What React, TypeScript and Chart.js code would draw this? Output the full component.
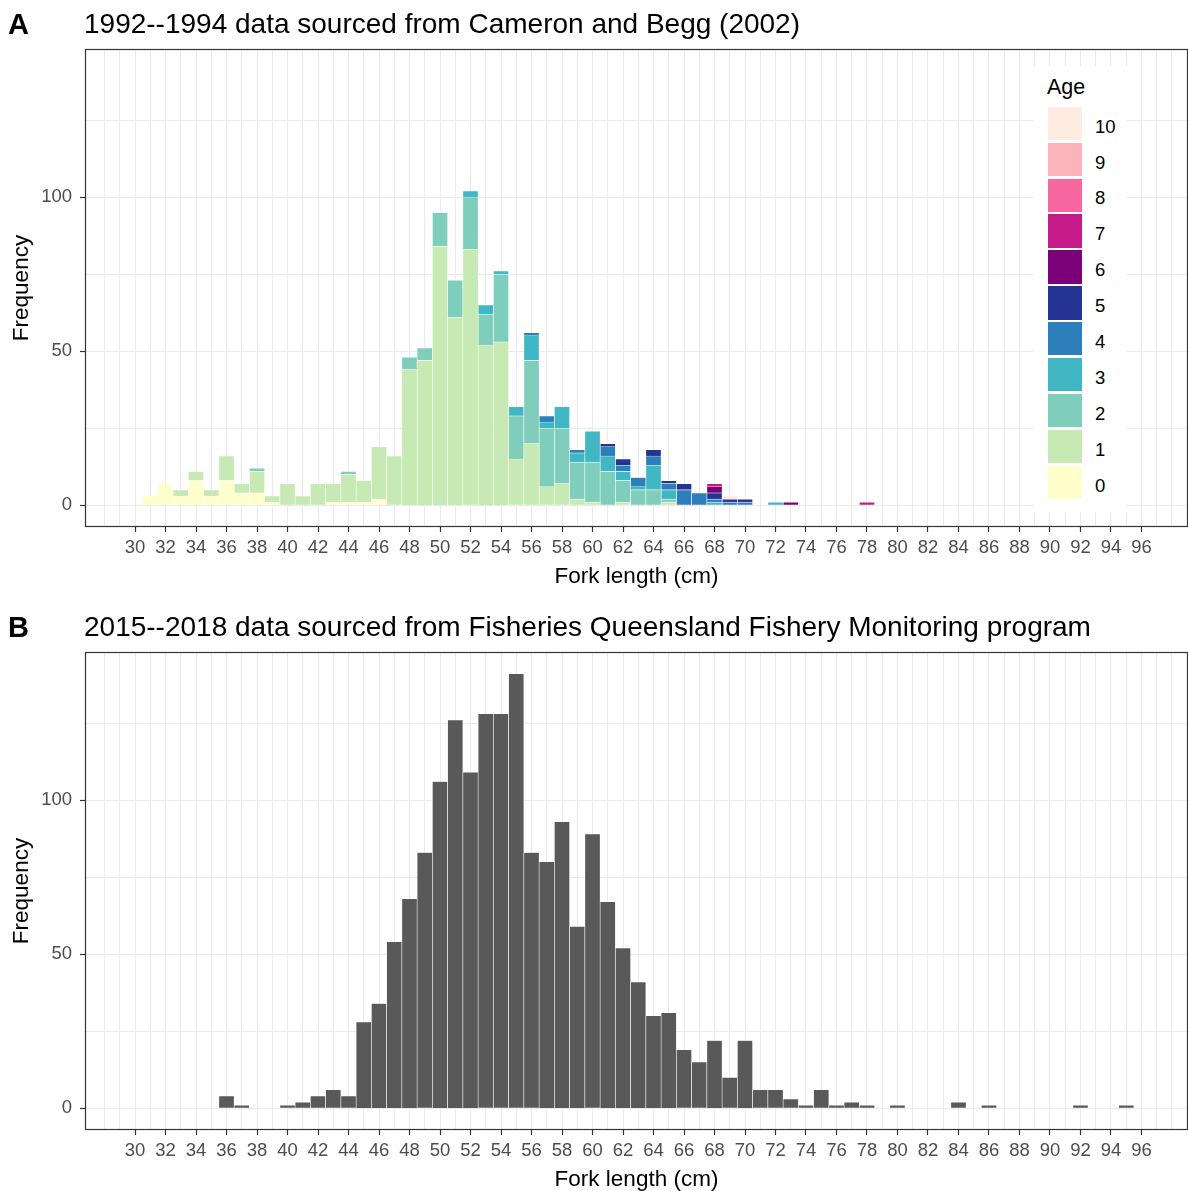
import React, { useEffect, useRef } from 'react';
import { Chart, registerables } from 'chart.js';

Chart.register(...registerables);

const FONT = "'Liberation Sans', Arial, Helvetica, sans-serif";

// ---- Panel A: 1992–1994 fork length frequencies split by age class ----
const lengthsA = [
  31, 32, 33, 34, 35, 36, 37, 38, 39, 40, 41, 42, 43, 44, 45, 46,
  47, 48, 49, 50, 51, 52, 53, 54, 55, 56, 57, 58, 59, 60, 61, 62,
  63, 64, 65, 66, 67, 68, 69, 70, 71, 72, 73, 74, 75, 76, 77, 78,
];
const ageLabels = ['0', '1', '2', '3', '4', '5', '6', '7', '8', '9', '10'];
const ageColors = [
  '#FFFFCC', '#C7E9B4', '#7FCDBB', '#41B6C4', '#2C7FB8', '#253494',
  '#7A0177', '#C51B8A', '#F768A1', '#FBB4B9', '#FEEBE2',
];
const age0 = [
  3, 7, 3, 8, 3, 8, 4, 4, 1, 0, 0, 0, 1, 1, 1, 2,
  0, 0, 0, 0, 0, 0, 0, 0, 0, 0, 0, 0, 0, 0, 0, 0,
  0, 0, 0, 0, 0, 0, 0, 0, 0, 0, 0, 0, 0, 0, 0, 0,
];
const age1 = [
  0, 0, 2, 3, 2, 8, 3, 7, 2, 7, 3, 7, 6, 9, 7, 17,
  16, 44, 47, 84, 61, 83, 52, 53, 15, 20, 6, 7, 2, 1, 0, 1,
  0, 0, 1, 0, 0, 0, 0, 0, 0, 0, 0, 0, 0, 0, 0, 0,
];
const age2 = [
  0, 0, 0, 0, 0, 0, 0, 1, 0, 0, 0, 0, 0, 1, 0, 0,
  0, 4, 4, 11, 12, 17, 10, 22, 14, 27, 19, 18, 12, 13, 11, 7,
  5, 5, 1, 0, 0, 0, 0, 0, 0, 0, 0, 0, 0, 0, 0, 0,
];
const age3 = [
  0, 0, 0, 0, 0, 0, 0, 0, 0, 0, 0, 0, 0, 0, 0, 0,
  0, 0, 0, 0, 0, 2, 3, 1, 3, 8, 2, 7, 3, 10, 5, 3,
  1, 8, 3, 0, 0, 1, 0, 0, 0, 1, 0, 0, 0, 0, 0, 0,
];
const age4 = [
  0, 0, 0, 0, 0, 0, 0, 0, 0, 0, 0, 0, 0, 0, 0, 0,
  0, 0, 0, 0, 0, 0, 0, 0, 0, 1, 2, 0, 1, 0, 3, 2,
  3, 3, 2, 5, 4, 1, 1, 1, 0, 0, 0, 0, 0, 0, 0, 0,
];
const age5 = [
  0, 0, 0, 0, 0, 0, 0, 0, 0, 0, 0, 0, 0, 0, 0, 0,
  0, 0, 0, 0, 0, 0, 0, 0, 0, 0, 0, 0, 0, 0, 1, 2,
  0, 2, 1, 2, 0, 2, 1, 1, 0, 0, 0, 0, 0, 0, 0, 0,
];
const age6 = [
  0, 0, 0, 0, 0, 0, 0, 0, 0, 0, 0, 0, 0, 0, 0, 0,
  0, 0, 0, 0, 0, 0, 0, 0, 0, 0, 0, 0, 0, 0, 0, 0,
  0, 0, 0, 0, 0, 2, 0, 0, 0, 0, 1, 0, 0, 0, 0, 0,
];
const age7 = [
  0, 0, 0, 0, 0, 0, 0, 0, 0, 0, 0, 0, 0, 0, 0, 0,
  0, 0, 0, 0, 0, 0, 0, 0, 0, 0, 0, 0, 0, 0, 0, 0,
  0, 0, 0, 0, 0, 1, 0, 0, 0, 0, 0, 0, 0, 0, 0, 1,
];
const age8 = [
  0, 0, 0, 0, 0, 0, 0, 0, 0, 0, 0, 0, 0, 0, 0, 0,
  0, 0, 0, 0, 0, 0, 0, 0, 0, 0, 0, 0, 0, 0, 0, 0,
  0, 0, 0, 0, 0, 0, 0, 0, 0, 0, 0, 0, 0, 0, 0, 0,
];
const age9 = [
  0, 0, 0, 0, 0, 0, 0, 0, 0, 0, 0, 0, 0, 0, 0, 0,
  0, 0, 0, 0, 0, 0, 0, 0, 0, 0, 0, 0, 0, 0, 0, 0,
  0, 0, 0, 0, 0, 0, 0, 0, 0, 0, 0, 0, 0, 0, 0, 0,
];
const age10 = [
  0, 0, 0, 0, 0, 0, 0, 0, 0, 0, 0, 0, 0, 0, 0, 0,
  0, 0, 0, 0, 0, 0, 0, 0, 0, 0, 0, 0, 0, 0, 0, 0,
  0, 0, 0, 0, 0, 0, 1, 0, 0, 0, 0, 0, 0, 0, 0, 0,
];
const countsByAge = [age0, age1, age2, age3, age4, age5, age6, age7, age8, age9, age10];

// ---- Panel B: 2015–2018 fork length frequencies ----
const lengthsB = [
  36, 37, 38, 39, 40, 41, 42, 43, 44, 45, 46, 47, 48, 49, 50, 51, 52, 53, 54, 55,
  56, 57, 58, 59, 60, 61, 62, 63, 64, 65, 66, 67, 68, 69, 70, 71, 72, 73, 74, 75,
  76, 77, 78, 79, 80, 81, 82, 83, 84, 85, 86, 87, 88, 89, 90, 91, 92, 93, 94, 95,
];
const countsB = [
  4, 1, 0, 0, 1, 2, 4, 6, 4, 28, 34, 54, 68, 83, 106, 126, 109, 128, 128, 141,
  83, 80, 93, 59, 89, 67, 52, 41, 30, 31, 19, 15, 22, 10, 22, 6, 6, 3, 1, 6,
  1, 2, 1, 0, 1, 0, 0, 0, 2, 0, 1, 0, 0, 0, 0, 0, 1, 0, 0, 1,
];

// ---- Axis breaks ----
const xBreaks = [
  30, 32, 34, 36, 38, 40, 42, 44, 46, 48, 50, 52, 54, 56, 58, 60, 62,
  64, 66, 68, 70, 72, 74, 76, 78, 80, 82, 84, 86, 88, 90, 92, 94, 96,
];
const yBreaks = [0, 50, 100];

const X_MIN = 26.72;
const X_MAX = 99.05;
const Y_MIN = -7.05;
const Y_MAX = 148.05;

// minor grid lines sit halfway between breaks, one step beyond each end
const xGrid = [xBreaks[0] - 2, ...xBreaks, xBreaks[xBreaks.length - 1] + 2].flatMap(
  (v, i, a) => (i < a.length - 1 ? [v, v + 1] : [v])
);
const yGrid = [...yBreaks, 150]
  .flatMap((v, i, a) => (i < a.length - 1 ? [v, v + 25] : [v]))
  .filter((v) => v <= Y_MAX);

const GRID = '#EBEBEB';
const INK = '#333333';
const TICK_TEXT = '#4D4D4D';

const framePlugin = {
  id: 'panelFrame',
  afterDatasetsDraw(chart: any) {
    const { ctx, chartArea: a } = chart;
    ctx.save();
    ctx.strokeStyle = INK;
    ctx.lineWidth = 1.2;
    ctx.strokeRect(a.left + 0.5, a.top + 0.5, a.right - a.left - 1, a.bottom - a.top - 1);
    ctx.restore();
  },
};

function panelOptions(stacked: boolean): any {
  return {
    responsive: false,
    animation: false,
    events: [],
    layout: { padding: { top: 49, right: 0, bottom: 0, left: 0 } },
    plugins: {
      legend: { display: false },
      tooltip: { enabled: false },
      title: { display: false },
    },
    scales: {
      x: {
        type: 'linear',
        min: X_MIN,
        max: X_MAX,
        bounds: 'data',
        offset: false,
        stacked,
        afterBuildTicks: (axis: any) => {
          axis.ticks = xGrid.map((v) => ({ value: v }));
        },
        afterFit: (axis: any) => {
          axis.height = 73;
        },
        grid: {
          offset: false,
          color: GRID,
          lineWidth: 1,
          tickLength: 5,
          tickWidth: 1.2,
          tickColor: (c: any) => (xBreaks.includes(c.tick?.value) ? INK : 'rgba(0,0,0,0)'),
        },
        border: { display: false },
        ticks: {
          autoSkip: false,
          maxRotation: 0,
          minRotation: 0,
          padding: 5,
          color: TICK_TEXT,
          font: { family: FONT, size: 18.5 },
          callback: (v: any) => (xBreaks.includes(v) ? String(v) : ''),
        },
        title: {
          display: true,
          text: 'Fork length (cm)',
          color: '#000000',
          font: { family: FONT, size: 22.5, lineHeight: 1.2 },
          padding: { top: 0, bottom: 10 },
        },
      },
      y: {
        type: 'linear',
        min: Y_MIN,
        max: Y_MAX,
        bounds: 'data',
        stacked,
        afterBuildTicks: (axis: any) => {
          axis.ticks = yGrid.map((v) => ({ value: v }));
        },
        afterFit: (axis: any) => {
          axis.width = 85;
        },
        grid: {
          color: GRID,
          lineWidth: 1,
          tickLength: 5,
          tickWidth: 1.2,
          tickColor: (c: any) => (yBreaks.includes(c.tick?.value) ? INK : 'rgba(0,0,0,0)'),
        },
        border: { display: false },
        ticks: {
          autoSkip: false,
          padding: 8,
          color: TICK_TEXT,
          font: { family: FONT, size: 18.5 },
          callback: (v: any) => (yBreaks.includes(v) ? String(v) : ''),
        },
        title: {
          display: true,
          text: 'Frequency',
          color: '#000000',
          font: { family: FONT, size: 22.5, lineHeight: 1.2 },
          padding: { top: 8, bottom: 0 },
        },
      },
    },
  };
}

function usePanel(ref: React.RefObject<HTMLCanvasElement | null>, build: () => any) {
  useEffect(() => {
    if (!ref.current) return;
    const chart = new Chart(ref.current, build());
    return () => chart.destroy();
  }, []);
}

const PANEL_W = 1188;
const PANEL_H = 600;
const PANEL_STEP = 603;

function PanelHeading({ tag, text, top }: { tag: string; text: string; top: number }) {
  return (
    <>
      <div
        style={{
          position: 'absolute', left: 8, top: top + 9.8, fontFamily: FONT,
          fontWeight: 700, fontSize: 29, lineHeight: '29px', color: '#000',
          whiteSpace: 'nowrap',
        }}
      >
        {tag}
      </div>
      <div
        style={{
          position: 'absolute', left: 84, top: top + 9.6, fontFamily: FONT,
          fontSize: 28, lineHeight: '28px', color: '#000', whiteSpace: 'nowrap',
        }}
      >
        {text}
      </div>
    </>
  );
}

function AgeLegend() {
  const order = ageLabels.map((_, i) => i).reverse();
  return (
    <div
      style={{
        position: 'absolute', left: 1033, top: 66, width: 94, height: 446,
        background: '#FFFFFF', fontFamily: FONT,
      }}
    >
      <div
        style={{
          position: 'absolute', left: 14, top: 10.8, fontSize: 21.5,
          lineHeight: '21.5px', color: '#000', whiteSpace: 'nowrap',
        }}
      >
        Age
      </div>
      {order.map((ageIdx, row) => (
        <div
          key={ageLabels[ageIdx]}
          style={{
            position: 'absolute', left: 15.3, top: 40.7 + row * 35.9, height: 33.4,
            display: 'flex', alignItems: 'center',
          }}
        >
          <div style={{ width: 33.4, height: 33.4, background: ageColors[ageIdx] }} />
          <div
            style={{
              marginLeft: 13.3, marginTop: 7, fontSize: 18.5, lineHeight: '18.5px',
              color: '#000', whiteSpace: 'nowrap',
            }}
          >
            {ageLabels[ageIdx]}
          </div>
        </div>
      ))}
    </div>
  );
}

export default function App() {
  const refA = useRef<HTMLCanvasElement | null>(null);
  const refB = useRef<HTMLCanvasElement | null>(null);

  usePanel(refA, () => ({
    type: 'bar',
    data: {
      datasets: countsByAge.map((counts, i) => ({
        label: ageLabels[i],
        data: lengthsA
          .map((x, j) => ({ x, y: counts[j] }))
          .filter((p) => p.y > 0),
        backgroundColor: ageColors[i],
        borderColor: '#FFFFFF',
        borderWidth: 0.6,
        barPercentage: 1,
        categoryPercentage: 1,
      })),
    },
    options: panelOptions(true),
    plugins: [framePlugin],
  }));

  usePanel(refB, () => ({
    type: 'bar',
    data: {
      datasets: [
        {
          label: 'Frequency',
          data: lengthsB
            .map((x, j) => ({ x, y: countsB[j] }))
            .filter((p) => p.y > 0),
          backgroundColor: '#595959',
          borderColor: '#FFFFFF',
          borderWidth: 0.6,
          barPercentage: 1,
          categoryPercentage: 1,
        },
      ],
    },
    options: panelOptions(false),
    plugins: [framePlugin],
  }));

  return (
    <div
      style={{
        position: 'fixed', left: 0, top: 0, width: 1188, height: 1191,
        overflow: 'hidden', background: '#FFFFFF',
      }}
    >
      <canvas
        ref={refA}
        width={PANEL_W}
        height={PANEL_H}
        style={{ position: 'absolute', left: 0, top: 0, width: PANEL_W, height: PANEL_H }}
      />
      <canvas
        ref={refB}
        width={PANEL_W}
        height={PANEL_H}
        style={{ position: 'absolute', left: 0, top: PANEL_STEP, width: PANEL_W, height: PANEL_H }}
      />
      <PanelHeading tag="A" text="1992--1994 data sourced from Cameron and Begg (2002)" top={0} />
      <PanelHeading
        tag="B"
        text="2015--2018 data sourced from Fisheries Queensland Fishery Monitoring program"
        top={PANEL_STEP}
      />
      <AgeLegend />
    </div>
  );
}
